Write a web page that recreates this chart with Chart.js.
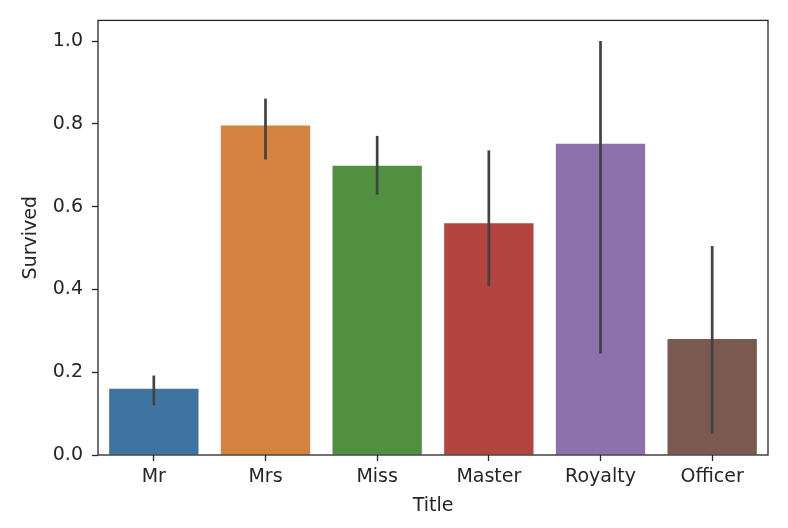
<!DOCTYPE html>
<html>
<head>
<meta charset="utf-8">
<script src="https://cdn.jsdelivr.net/npm/chart.js@4"></script>
<style>
    body { margin: 0; background: #fff; }
    #wrap { width: 788px; height: 528px; }
</style>
</head>
<body>
<div id="wrap"><canvas id="titleChart" width="788" height="528"></canvas></div>
<script>
// DATA
const titles = ['Mr', 'Mrs', 'Miss', 'Master', 'Royalty', 'Officer'];
const survived = [0.160, 0.796, 0.699, 0.560, 0.752, 0.280];
const ciLow = [0.120, 0.714, 0.629, 0.408, 0.245, 0.052];
const ciHigh = [0.192, 0.861, 0.771, 0.736, 1.000, 0.505];
const yTicks = [0.0, 0.2, 0.4, 0.6, 0.8, 1.0];
const barColors = ['#3f73a0', '#d4823e', '#519040', '#b3443f', '#8c72ad', '#7a5a50'];

const textColor = '#262626';
const axisFont = { family: 'DejaVu Sans', size: 19 };

// error bars + frame
const errorBars = {
    id: 'errorBars',
    afterDatasetsDraw(chart) {
        const ctx = chart.ctx;
        const xs = chart.scales.x;
        const ys = chart.scales.y;
        ctx.save();
        ctx.strokeStyle = '#424242';
        ctx.lineWidth = 2.7;
        ctx.lineCap = 'butt';
        titles.forEach((t, i) => {
            const x = xs.getPixelForValue(i);
            ctx.beginPath();
            ctx.moveTo(x, ys.getPixelForValue(ciLow[i]));
            ctx.lineTo(x, ys.getPixelForValue(ciHigh[i]));
            ctx.stroke();
        });
        const a = chart.chartArea;
        ctx.strokeStyle = textColor;
        ctx.lineWidth = 1.3;
        ctx.strokeRect(a.left, a.top, a.right - a.left, a.bottom - a.top);
        ctx.restore();
    }
};

new Chart(document.getElementById('titleChart'), {
    type: 'bar',
    data: {
        labels: titles,
        datasets: [{
            data: survived,
            backgroundColor: barColors,
            borderWidth: 0,
            categoryPercentage: 1.0,
            barPercentage: 0.8
        }]
    },
    options: {
        responsive: false,
        animation: false,
        layout: { padding: { left: 0, top: 19, right: 20, bottom: 0 } },
        plugins: {
            legend: { display: false },
            tooltip: { enabled: false }
        },
        scales: {
            x: {
                offset: true,
                grid: { display: true, offset: false, drawOnChartArea: false, drawTicks: true, tickLength: 6, tickColor: textColor, tickWidth: 1.3 },
                border: { display: false },
                ticks: { color: textColor, font: axisFont, padding: 5, maxRotation: 0 },
                title: { display: true, text: 'Title', color: textColor, font: axisFont, padding: { top: 0, bottom: 11 } },
                afterFit(scale) { scale.height = 73; }
            },
            y: {
                min: 0,
                max: 1.05,
                afterBuildTicks(scale) { scale.ticks = yTicks.map(v => ({ value: v })); },
                grid: { display: true, drawOnChartArea: false, drawTicks: true, tickLength: 6, tickColor: textColor, tickWidth: 1.3 },
                border: { display: false },
                ticks: { color: textColor, font: axisFont, padding: 9, callback: v => v.toFixed(1) },
                title: { display: true, text: 'Survived', color: textColor, font: axisFont, padding: { top: 20, bottom: 0 } },
                afterFit(scale) { scale.width = 98; }
            }
        }
    },
    plugins: [errorBars]
});
</script>
</body>
</html>
